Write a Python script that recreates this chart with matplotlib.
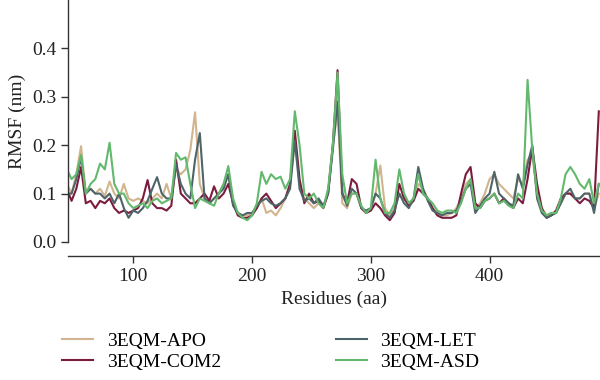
import numpy as np
import matplotlib
matplotlib.use("Agg")
import matplotlib.pyplot as plt

plt.rcParams['font.family'] = ['Liberation Serif', 'DejaVu Serif']

# residue numbers (every 4th residue)
residues = np.arange(44, 493, 4)

# RMSF values (nm)
apo = [.12, .10, .14, .198, .10, .11, .10, .11, .095, .125,
       .10, .09, .12, .09, .085, .09, .085, .08, .09, .10,
       .09, .12, .09, .15, .14, .15, .19, .268, .12, .09,
       .08, .09, .10, .12, .14, .08, .06, .055, .055, .06,
       .07, .09, .06, .065, .055, .07, .09, .12, .21, .12,
       .09, .08, .07, .08, .07, .10, .20, .27, .08, .07,
       .10, .10, .07, .06, .065, .10, .158, .07, .055, .07,
       .10, .09, .08, .09, .12, .11, .09, .07, .06, .055,
       .055, .06, .07, .09, .12, .13, .07, .08, .10, .13,
       .14, .12, .11, .10, .09, .13, .12, .17, .18, .10,
       .07, .055, .06, .06, .08, .10, .10, .09, .09, .10,
       .10, .07, .10]
com2 = [.11, .085, .11, .155, .08, .085, .07, .085, .08, .09,
        .07, .06, .065, .06, .065, .07, .09, .128, .08, .07,
        .07, .065, .075, .17, .10, .09, .08, .08, .09, .10,
        .085, .115, .09, .10, .12, .08, .055, .05, .05, .055,
        .07, .09, .10, .085, .07, .08, .09, .12, .23, .13,
        .08, .10, .08, .085, .07, .10, .20, .355, .10, .08,
        .13, .12, .07, .06, .065, .08, .07, .055, .045, .06,
        .12, .09, .075, .085, .11, .10, .09, .07, .055, .05,
        .05, .05, .055, .10, .14, .155, .08, .07, .085, .09,
        .10, .08, .09, .08, .07, .09, .08, .13, .195, .12,
        .07, .05, .055, .065, .09, .10, .10, .09, .08, .09,
        .085, .07, .27]
let = [.10, .10, .13, .175, .10, .11, .10, .10, .09, .10,
       .08, .10, .07, .05, .065, .06, .07, .085, .11, .134,
       .10, .09, .09, .16, .12, .10, .09, .17, .225, .09,
       .08, .09, .10, .11, .14, .075, .06, .055, .06, .06,
       .075, .085, .09, .08, .075, .08, .09, .11, .21, .11,
       .085, .09, .08, .09, .075, .10, .19, .29, .10, .075,
       .11, .10, .07, .065, .07, .10, .09, .06, .05, .065,
       .10, .08, .07, .09, .155, .11, .085, .065, .06, .055,
       .06, .06, .065, .085, .11, .12, .06, .075, .09, .10,
       .145, .10, .09, .08, .075, .14, .11, .16, .20, .09,
       .06, .05, .055, .06, .08, .10, .11, .09, .09, .10,
       .10, .06, .12]
asd = [.15, .13, .14, .18, .10, .12, .13, .162, .15, .205,
       .12, .10, .10, .08, .07, .075, .08, .07, .085, .09,
       .08, .085, .09, .184, .17, .175, .12, .07, .09, .085,
       .08, .075, .10, .12, .157, .09, .06, .05, .045, .055,
       .08, .145, .12, .14, .13, .135, .11, .13, .27, .20,
       .10, .09, .10, .08, .07, .11, .20, .35, .14, .08,
       .10, .10, .075, .06, .07, .17, .09, .06, .06, .08,
       .15, .10, .08, .09, .14, .10, .09, .08, .065, .06,
       .065, .065, .06, .08, .11, .13, .07, .07, .085, .09,
       .10, .08, .085, .075, .07, .10, .09, .335, .19, .10,
       .065, .055, .06, .06, .09, .14, .155, .14, .12, .11,
       .13, .08, .12]

labels = ['3EQM-APO', '3EQM-COM2', '3EQM-LET', '3EQM-ASD']
colors = ['#d2b48f', '#7b1c3e', '#4d6469', '#62b96d']

fig = plt.figure(figsize=(6, 3.8), dpi=100)
ax = fig.add_axes([68/600, 138/380, 532/600, 242/380])

for ys, lab, c in zip([apo, com2, let, asd], labels, colors):
    ax.plot(residues, ys, color=c, lw=1.5, label=lab)

ax.set_xlim(45, 493)
ax.set_ylim(0, 0.5)
ax.set_xticks([100, 200, 300, 400])
ax.set_yticks([0.0, 0.1, 0.2, 0.3, 0.4])
ax.set_yticklabels(['0.0', '0.1', '0.2', '0.3', '0.4'])
ax.spines['top'].set_visible(False)
ax.spines['right'].set_visible(False)
ax.spines['bottom'].set_position(('outward', 10))
for s in ['left', 'bottom']:
    ax.spines[s].set_color('#333333')
    ax.spines[s].set_linewidth(1.0)
ax.tick_params(direction='out', length=5, width=1.0, colors='#333333',
               labelsize=14, labelcolor='#222222')
ax.set_xlabel('Residues (aa)', fontsize=14, color='#222222')
ax.set_ylabel('RMSF (nm)', fontsize=14, color='#222222')

fig.legend(loc='upper left', bbox_to_anchor=(62/600, 1 - 332/380), ncol=2,
           frameon=False, fontsize=14, handlelength=1.6, handletextpad=0.7,
           columnspacing=5.9, labelspacing=0.18, borderpad=0, borderaxespad=0)

fig.savefig('out.png', dpi=100)
